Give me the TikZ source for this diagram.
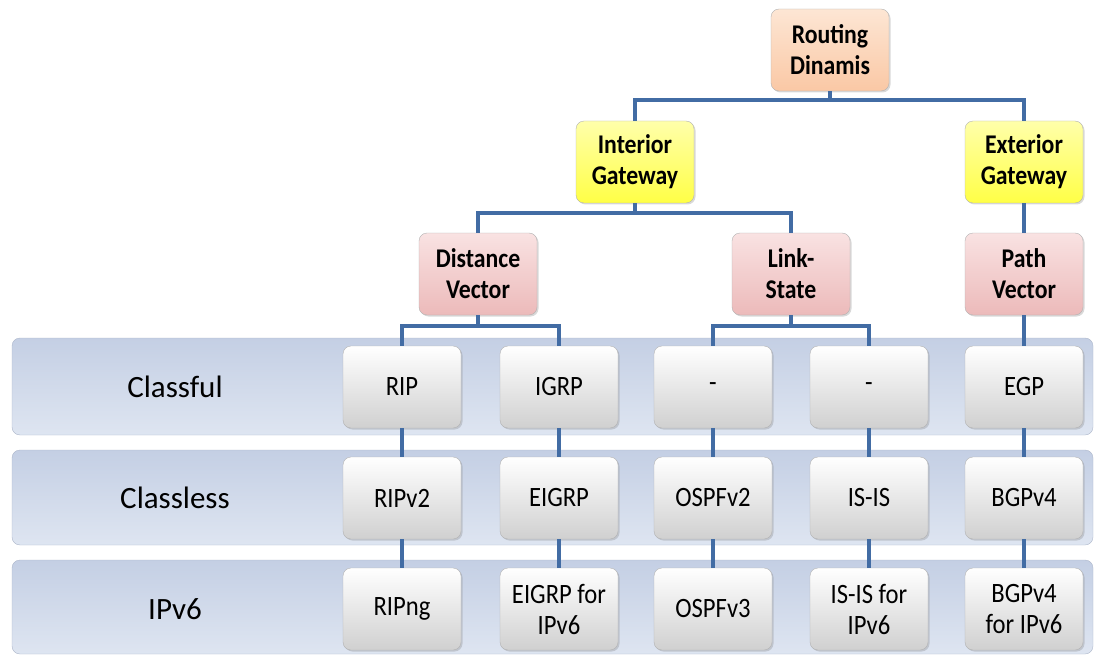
\documentclass[tikz,border=0pt]{standalone}
\usepackage{fontspec}
\setmainfont{Carlito}
\newfontfamily\narrowfont[FakeStretch=0.88]{Carlito}
\usetikzlibrary{shadows}

\definecolor{linkblue}{RGB}{66,108,164}
\definecolor{bandtop}{RGB}{196,207,228}
\definecolor{bandbot}{RGB}{222,229,241}
\definecolor{bandline}{RGB}{172,182,202}

\begin{document}
\begin{tikzpicture}[x=1pt,y=-1pt,
  link/.style={draw=linkblue, line width=4pt},
  box/.style={draw=gray!60, rounded corners=8pt, minimum width=118pt,
    minimum height=82pt, align=center, inner sep=2pt,
    font=\narrowfont\fontsize{28}{31}\selectfont,
    drop shadow={opacity=0.3, shadow xshift=1.5pt, shadow yshift=-1.5pt}},
  head/.style={box, font=\narrowfont\fontsize{27}{31}\selectfont\bfseries},
  rootbox/.style={head, top color={rgb,255:red,253;green,230;blue,212}, bottom color={rgb,255:red,250;green,200;blue,165}},
  gatebox/.style={head, top color={rgb,255:red,255;green,255;blue,170}, bottom color={rgb,255:red,255;green,255;blue,70}},
  algbox/.style={head, top color={rgb,255:red,249;green,226;blue,226}, bottom color={rgb,255:red,236;green,186;blue,186}},
  leaf/.style={box, top color=white, bottom color={rgb,255:red,208;green,208;blue,208}},
  band/.style={draw=bandline, rounded corners=8pt, minimum width=1081pt,
    top color=bandtop, bottom color=bandbot},
  bandtext/.style={font=\fontsize{31}{36}\selectfont}]

\useasboundingbox (0,0) rectangle (1100,655);

% Bands
\node[band, minimum height=97pt] (bcf) at (552.5,386.5) {};
\node[band, minimum height=95pt] (bcl) at (552.5,497.5) {};
\node[band, minimum height=94pt] (bv6) at (552.5,607) {};
\node[bandtext] (tcf) at (175,387) {Classful};
\node[bandtext] (tcl) at (175,498) {Classless};
\node[bandtext] (tv6) at (175,609) {IPv6};

% Tree
\node[rootbox] (rd) at (830,50) {Routing\\Dinamis};
\node[gatebox] (ig) at (635,162) {Interior\\Gateway};
\node[gatebox] (eg) at (1024,162) {Exterior\\Gateway};
\node[algbox] (dv) at (478,274) {Distance\\Vector};
\node[algbox] (ls) at (791,274) {Link-\\State};
\node[algbox] (pv) at (1024,274) {Path\\Vector};

% Classful
\node[leaf] (rip) at (402,387) {RIP};
\node[leaf] (igrp) at (559,387) {IGRP};
\node[leaf] (cfa) at (713,387) {-};
\node[leaf] (cfb) at (869,387) {-};
\node[leaf] (egp) at (1024,387) {EGP};

% Classless
\node[leaf] (ripv2) at (402,498) {RIPv2};
\node[leaf] (eigrp) at (559,498) {EIGRP};
\node[leaf] (ospfv2) at (713,498) {OSPFv2};
\node[leaf] (isis) at (869,498) {IS-IS};
\node[leaf] (bgp) at (1024,498) {BGPv4};

% IPv6
\node[leaf] (ripng) at (402,609) {RIPng};
\node[leaf] (eigrp6) at (559,609) {EIGRP for\\IPv6};
\node[leaf] (ospfv3) at (713,609) {OSPFv3};
\node[leaf] (isis6) at (869,609) {IS-IS for\\IPv6};
\node[leaf] (bgp6) at (1024,609) {BGPv4\\for IPv6};

% Junctions
\coordinate (j0) at (830,100);
\coordinate (j1) at (635,213);
\coordinate (j2) at (478,326);
\coordinate (j3) at (791,326);

% Links
\draw[link] (rd) -- (j0) -| (ig);
\draw[link] (j0) -| (eg);
\draw[link] (ig) -- (j1) -| (dv);
\draw[link] (j1) -| (ls);
\draw[link] (eg) -- (pv);
\draw[link] (dv) -- (j2) -| (rip);
\draw[link] (j2) -| (igrp);
\draw[link] (ls) -- (j3) -| (cfa);
\draw[link] (j3) -| (cfb);
\draw[link] (pv) -- (egp);
\foreach \a/\b/\c in {rip/ripv2/ripng, igrp/eigrp/eigrp6, cfa/ospfv2/ospfv3,
    cfb/isis/isis6, egp/bgp/bgp6}
  \draw[link] (\a) -- (\b) -- (\c);

\end{tikzpicture}
\end{document}
